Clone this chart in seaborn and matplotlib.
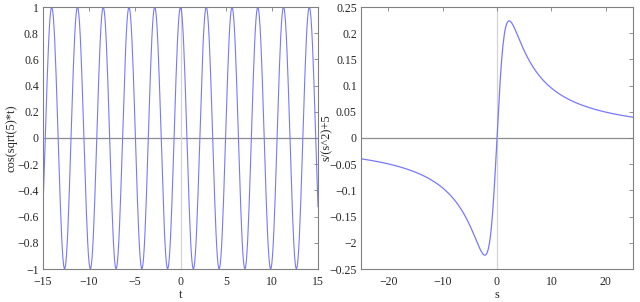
import numpy as np
import pandas as pd
import seaborn as sns
import matplotlib.pyplot as plt

# left panel: cos(sqrt(5)*t)
t_range = [-15, 15]
omega = np.sqrt(5)
# right panel: s/(s^2+5)
s_range = [-25, 25]
s_const = 5

left_yticks = [-1, -0.8, -0.6, -0.4, -0.2, 0, 0.2, 0.4, 0.6, 0.8, 1]
left_xticks = [-15, -10, -5, 0, 5, 10, 15]
right_yticks = [-0.25, -0.2, -0.15, -0.1, -0.05, 0, 0.05, 0.1, 0.15, 0.2, 0.25]
right_ylabels = ["\u22120.25", "\u22122", "\u22120.15", "\u22120.1", "\u22120.05", "0",
                 "0.05", "0.1", "0.15", "0.2", "0.25"]
right_xticks = [-20, -10, 0, 10, 20]

t = np.linspace(t_range[0], t_range[1], 400)
s = np.linspace(s_range[0], s_range[1], 400)
df_left = pd.DataFrame({"t": t, "y": np.cos(omega * t)})
df_right = pd.DataFrame({"s": s, "y": s / (s ** 2 + s_const)})

sns.set_style("white")
plt.rcParams["font.family"] = ["Liberation Serif", "DejaVu Serif"]
plt.rcParams["axes.unicode_minus"] = True

line_color = "#7878ff"
spine_color = "#808080"

fig = plt.figure(figsize=(6.4, 3.02), dpi=100)
ax1 = fig.add_axes([43 / 640, 1 - 269 / 302, 275 / 640, 262 / 302])
ax2 = fig.add_axes([361 / 640, 1 - 269 / 302, 272 / 640, 262 / 302])

sns.lineplot(data=df_left, x="t", y="y", ax=ax1, color=line_color, linewidth=0.8)
sns.lineplot(data=df_right, x="s", y="y", ax=ax2, color=line_color, linewidth=0.9)

for ax in (ax1, ax2):
    ax.axhline(0, color="#8c8c8c", linewidth=0.9, zorder=0)
    ax.axvline(0, color="#d4d4d4", linewidth=0.9, zorder=0)
    for sp in ax.spines.values():
        sp.set_color(spine_color)
        sp.set_linewidth(0.8)
    ax.tick_params(direction="in", length=3, width=0.6, color=spine_color,
                   labelsize=8.5, top=True, right=True, pad=3)
    ax.tick_params(axis="x", pad=5)

ax1.set_xlim(t_range)
ax1.set_ylim(-1, 1)
ax1.set_xticks(left_xticks)
ax1.set_yticks(left_yticks)
ax1.set_yticklabels([("%g" % v).replace("-", "\u2212") for v in left_yticks])
ax1.set_xlabel("t", fontsize=9, labelpad=1)
ax1.set_ylabel("cos(sqrt(5)*t)", fontsize=9)
ax1.yaxis.set_label_coords(-26 / 275, 0.5)

ax2.set_xlim(s_range)
ax2.set_ylim(-0.25, 0.25)
ax2.set_xticks(right_xticks)
ax2.set_yticks(right_yticks)
ax2.set_yticklabels(right_ylabels)
ax2.set_xlabel("s", fontsize=9, labelpad=1)
ax2.set_ylabel("s/(s^2)+5", fontsize=9)
ax2.yaxis.set_label_coords(-28 / 272, 0.5)

fig.savefig("out.png", dpi=100)
